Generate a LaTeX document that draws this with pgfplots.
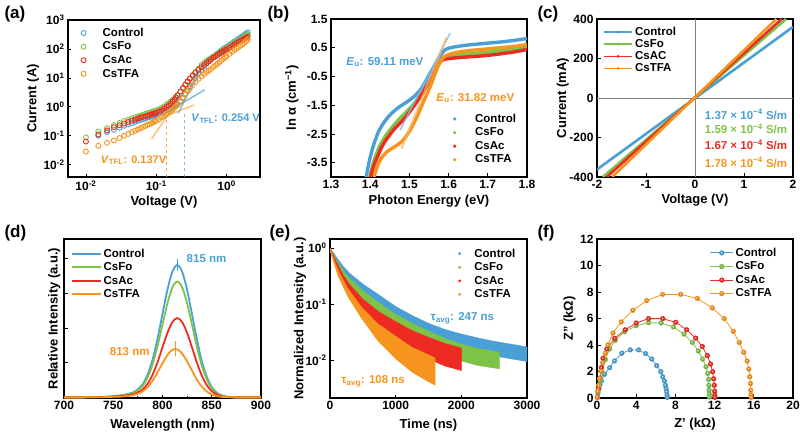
\documentclass[border=0pt]{standalone}
\usepackage{fontspec}
\setmainfont{Liberation Sans}
\usepackage{pgfplots}
\pgfplotsset{compat=1.18}
\definecolor{cblue}{HTML}{4A9FD6}
\definecolor{cgreen}{HTML}{7CC348}
\definecolor{cred}{HTML}{EE2B22}
\definecolor{corange}{HTML}{F7941D}
\newcommand{\tickfont}{\fontsize{12}{13}\selectfont\bfseries}
\newcommand{\labfont}{\fontsize{13}{14}\selectfont\bfseries}
\newcommand{\legfont}{\fontsize{11.5}{13}\selectfont\bfseries}
\newcommand{\anfont}{\fontsize{11.5}{13}\selectfont\bfseries}
\newcommand{\panfont}{\fontsize{17}{18}\selectfont\bfseries}
\pgfplotsset{
  panel/.style={
    scale only axis,
    anchor=south west,
    axis line style={line width=1.3pt},
    tick align=inside,
    tick pos=left,
    major tick length=3.5pt,
    minor tick length=2pt,
    tick style={line width=0.8pt, black},
    tick label style={font=\tickfont},
    label style={font=\labfont},
    legend style={draw=none, fill=none, font=\legfont},
    legend cell align=left,
  },
}

\begin{document}
\begin{tikzpicture}
\useasboundingbox (0pt,0pt) rectangle (800pt,-435pt);

\node[anchor=west, font=\panfont] at (1pt,-14pt) {(a)};
\node[anchor=west, font=\panfont] at (264pt,-14pt) {(b)};
\node[anchor=west, font=\panfont] at (534pt,-14pt) {(c)};
\node[anchor=west, font=\panfont] at (1pt,-233pt) {(d)};
\node[anchor=west, font=\panfont] at (266pt,-233pt) {(e)};
\node[anchor=west, font=\panfont] at (534pt,-233pt) {(f)};

% (a) SCLC
\begin{axis}[panel, at={(68pt,-177pt)}, width=192pt, height=157pt,
  xmode=log, ymode=log, xmin=0.00556, xmax=2.99, ymin=0.0038, ymax=1000,
  xminorticks=false, yminorticks=false,
  xtick={0.01,0.1,1}, xticklabels={10\textsuperscript{-2},10\textsuperscript{-1},10\textsuperscript{0}},
  ytick={0.01,0.1,1,10,100,1000},
  yticklabels={10\textsuperscript{-2},10\textsuperscript{-1},10\textsuperscript{0},10\textsuperscript{1},10\textsuperscript{2},10\textsuperscript{3}},
  xlabel={Voltage (V)}, ylabel={Current (A)},
  xlabel style={at={(axis description cs:0.5,-0.16)}, anchor=center},
  ylabel style={at={(axis description cs:-0.182,0.5)}, anchor=center},
  legend image code/.code={\path[draw=none,fill=none] (0cm,0cm) -- (0.8cm,0cm); \draw[mark repeat=2,mark phase=2,#1] plot coordinates {(0cm,0cm) (0.2cm,0cm) (0.4cm,0cm)};},
  legend style={at={(0.035,0.975)}, anchor=north west},
]
\addplot[only marks, mark=o, mark size=2.5pt, cblue, line width=0.9pt] coordinates {
(0.015,0.102) (0.02,0.135) (0.025,0.162) (0.03,0.19) (0.035,0.224) (0.04,0.251) (0.045,0.275)
(0.05,0.305) (0.055,0.331) (0.06,0.355) (0.065,0.376) (0.07,0.403) (0.075,0.427) (0.08,0.447)
(0.085,0.468) (0.09,0.49) (0.095,0.513) (0.1,0.537) (0.11,0.589) (0.12,0.631) (0.13,0.684)
(0.14,0.75) (0.15,0.822) (0.16,0.891) (0.17,0.977) (0.18,1.07) (0.19,1.17) (0.2,1.26)
(0.22,1.58) (0.24,2.09) (0.26,2.82) (0.28,3.8) (0.3,5.0) (0.33,7.24) (0.36,10) (0.4,14.3)
(0.44,19) (0.48,25) (0.52,31) (0.56,37) (0.6,44) (0.65,53.7) (0.7,61.7) (0.75,70.8) (0.8,80.5)
(0.85,90.4) (0.9,99.5) (0.95,109) (1.0,118) (1.1,138) (1.2,158) (1.3,181) (1.4,204) (1.5,229)
(1.6,253) (1.7,280) (1.8,309) (1.9,343) (2.0,376)};
\addlegendentry{Control}
\addplot[only marks, mark=o, mark size=2.5pt, cgreen, line width=0.9pt] coordinates {
(0.01,0.089) (0.015,0.141) (0.02,0.186) (0.025,0.234) (0.03,0.279) (0.035,0.324) (0.04,0.363)
(0.045,0.403) (0.05,0.437) (0.055,0.468) (0.06,0.50) (0.065,0.537) (0.07,0.569) (0.075,0.603)
(0.08,0.631) (0.085,0.661) (0.09,0.692) (0.095,0.724) (0.1,0.759) (0.11,0.832) (0.12,0.923)
(0.13,1.035) (0.14,1.19) (0.15,1.33) (0.16,1.51) (0.17,1.70) (0.18,1.86) (0.19,2.14) (0.2,2.51)
(0.22,3.31) (0.24,4.37) (0.26,5.75) (0.28,7.41) (0.3,9.33) (0.33,12.6) (0.36,16.2) (0.4,20.9)
(0.44,27.5) (0.48,33.9) (0.52,38.9) (0.56,43.7) (0.6,47.9) (0.65,55) (0.7,61.7) (0.75,69)
(0.8,76.7) (0.85,85) (0.9,92.7) (0.95,101) (1.0,109) (1.1,126) (1.2,144) (1.3,162) (1.4,181)
(1.5,200) (1.6,221) (1.7,240) (1.8,263) (1.9,288) (2.0,316)};
\addlegendentry{CsFo}
\addplot[only marks, mark=o, mark size=2.5pt, cred, line width=0.9pt] coordinates {
(0.01,0.0638) (0.015,0.112) (0.02,0.155) (0.025,0.20) (0.03,0.232) (0.035,0.266) (0.04,0.302)
(0.045,0.335) (0.05,0.363) (0.055,0.398) (0.06,0.427) (0.065,0.452) (0.07,0.473) (0.075,0.495)
(0.08,0.525) (0.085,0.55) (0.09,0.569) (0.095,0.596) (0.1,0.631) (0.11,0.708) (0.12,0.776)
(0.13,0.881) (0.14,1.0) (0.15,1.10) (0.16,1.29) (0.17,1.51) (0.18,1.78) (0.19,2.14) (0.2,2.51)
(0.22,3.39) (0.24,4.57) (0.26,5.89) (0.28,7.59) (0.3,9.55) (0.33,12.0) (0.36,14.8) (0.4,19.1)
(0.44,23.4) (0.48,28.2) (0.52,32.7) (0.56,37.6) (0.6,42.7) (0.65,50) (0.7,55.6) (0.75,62.4)
(0.8,69.2) (0.85,76.4) (0.9,83.2) (0.95,90.8) (1.0,97.7) (1.1,112) (1.2,129) (1.3,145) (1.4,162)
(1.5,178) (1.6,195) (1.7,209) (1.8,229) (1.9,245) (2.0,266)};
\addlegendentry{CsAc}
\addplot[only marks, mark=o, mark size=2.5pt, corange, line width=0.9pt] coordinates {
(0.01,0.0288) (0.015,0.0452) (0.02,0.0575) (0.025,0.0692) (0.03,0.0841) (0.035,0.101) (0.04,0.117)
(0.045,0.133) (0.05,0.15) (0.055,0.166) (0.06,0.184) (0.065,0.204) (0.07,0.221) (0.075,0.24)
(0.08,0.254) (0.085,0.272) (0.09,0.292) (0.095,0.313) (0.1,0.331) (0.11,0.376) (0.12,0.437)
(0.13,0.49) (0.14,0.562) (0.15,0.638) (0.16,0.716) (0.17,0.804) (0.18,0.923) (0.19,1.05) (0.2,1.17)
(0.22,1.48) (0.24,1.95) (0.26,2.8) (0.28,3.5) (0.3,4.3) (0.33,5.7) (0.36,7.3) (0.4,9.3)
(0.44,11.5) (0.48,13.6) (0.52,15.8) (0.56,18.0) (0.6,20.4) (0.65,24) (0.7,27.5) (0.75,31.5)
(0.8,36) (0.85,41) (0.9,46) (0.95,51) (1.0,56) (1.1,67) (1.2,80) (1.3,92) (1.4,105)
(1.5,118) (1.6,132) (1.7,148) (1.8,165) (1.9,185) (2.0,210)};
\addlegendentry{CsTFA}
% fits and V_TFL markers
\addplot[cblue, opacity=0.65, line width=1.6pt, forget plot] coordinates {(0.14,0.65) (0.49,3.9)};
\addplot[cblue, opacity=0.65, line width=1.6pt, forget plot] coordinates {(0.205,0.6) (0.46,30)};
\addplot[corange, opacity=0.55, line width=1.6pt, forget plot] coordinates {(0.11,0.39) (0.345,1.16)};
\addplot[corange, opacity=0.55, line width=1.6pt, forget plot] coordinates {(0.086,0.079) (0.37,14)};
\addplot[cblue, dashed, opacity=0.7, line width=0.7pt, forget plot] coordinates {(0.254,0.0038) (0.254,0.72)};
\addplot[corange, dashed, opacity=0.8, line width=0.7pt, forget plot] coordinates {(0.137,0.0038) (0.137,0.45)};
\node[anchor=west, text=cblue, font=\fontsize{11}{12}\selectfont\bfseries] at (axis cs:0.282,0.40) {\textit{V}\textsubscript{TFL}: 0.254 V};
\node[anchor=west, text=corange, font=\fontsize{11}{12}\selectfont\bfseries] at (axis cs:0.0145,0.0145) {\textit{V}\textsubscript{TFL}: 0.137V};
\end{axis}

% (b) Urbach
\begin{axis}[panel, at={(331pt,-177pt)}, width=196pt, height=158pt,
  xmin=1.3, xmax=1.8, ymin=-4, ymax=1.5,
  xtick={1.3,1.4,1.5,1.6,1.7,1.8}, xticklabels={1.3,1.4,1.5,1.6,1.7,1.8},
  ytick={-3.5,-2.5,-1.5,-0.5,0.5,1.5}, yticklabels={-3.5,-2.5,-1.5,-0.5,0.5,1.5},
  xlabel={Photon Energy (eV)}, ylabel={ln α (cm\textsuperscript{−1})},
  xlabel style={at={(axis description cs:0.5,-0.156)}, anchor=center},
  ylabel style={at={(axis description cs:-0.2,0.5)}, anchor=center},
  legend image code/.code={\path[draw=none,fill=none] (0cm,0cm) -- (0.75cm,0cm); \fill[#1, draw=none] (0.1cm,0cm) circle (1.8pt);},
  legend style={at={(0.6,0.425)}, anchor=north west},
]
\addplot[cblue, line width=3.4pt, smooth] coordinates {
(1.390,-4.0) (1.396,-3.55) (1.404,-3.1) (1.412,-2.75) (1.422,-2.4) (1.435,-2.1) (1.45,-1.85)
(1.47,-1.6) (1.49,-1.42) (1.51,-1.22) (1.53,-0.93) (1.55,-0.45) (1.565,-0.1) (1.578,0.2)
(1.59,0.42) (1.605,0.5) (1.63,0.56) (1.66,0.61) (1.70,0.66) (1.74,0.71) (1.77,0.76) (1.80,0.82)};
\addlegendentry{Control}
\addplot[cgreen, line width=3.4pt, smooth] coordinates {
(1.399,-4.0) (1.405,-3.65) (1.413,-3.3) (1.425,-2.9) (1.44,-2.55) (1.46,-2.2) (1.48,-1.9)
(1.505,-1.55) (1.53,-1.12) (1.555,-0.6) (1.572,-0.15) (1.583,0.08) (1.595,0.18) (1.62,0.24)
(1.65,0.28) (1.68,0.32) (1.71,0.36) (1.74,0.41) (1.77,0.46) (1.80,0.52)};
\addlegendentry{CsFo}
\addplot[cred, line width=3.4pt, smooth] coordinates {
(1.401,-4.0) (1.406,-3.75) (1.412,-3.5) (1.42,-3.25) (1.434,-2.84) (1.459,-2.37) (1.485,-2.0)
(1.51,-1.56) (1.536,-1.03) (1.561,-0.45) (1.574,-0.06) (1.585,0.08) (1.60,0.12) (1.62,0.15)
(1.65,0.18) (1.68,0.21) (1.71,0.25) (1.74,0.30) (1.77,0.36) (1.80,0.44)};
\addlegendentry{CsAc}
\addplot[corange, line width=3.4pt, smooth] coordinates {
(1.410,-4.0) (1.415,-3.75) (1.425,-3.42) (1.442,-3.13) (1.468,-2.9) (1.482,-2.75) (1.502,-2.37)
(1.519,-1.91) (1.536,-1.38) (1.553,-0.86) (1.566,-0.39) (1.578,0.0) (1.59,0.2) (1.61,0.3)
(1.63,0.36) (1.66,0.41) (1.70,0.46) (1.74,0.51) (1.77,0.55) (1.80,0.61)};
\addlegendentry{CsTFA}
\addplot[cblue!70!white, opacity=0.8, line width=1.6pt, forget plot] coordinates {(1.476,-2.37) (1.604,1.01)};
\addplot[corange!70!white, opacity=0.7, line width=2.2pt, forget plot] coordinates {(1.48,-3.0) (1.595,0.85)};
\node[anchor=west, text=cblue, font=\anfont] at (axis cs:1.33,0.0) {\textit{E}\textsubscript{u}: 59.11 meV};
\node[anchor=west, text=corange, font=\anfont] at (axis cs:1.56,-1.25) {\textit{E}\textsubscript{u}: 31.82 meV};
\end{axis}

% (c) conductivity
\begin{axis}[panel, at={(597pt,-177pt)}, width=196pt, height=158pt,
  xmin=-2, xmax=2, ymin=-400, ymax=400,
  xtick={-2,-1,0,1,2}, xticklabels={-2,-1,0,1,2},
  ytick={-400,-200,0,200,400}, yticklabels={-400,-200,0,200,400},
  xlabel={Voltage (V)}, ylabel={Current (mA)},
  xlabel style={at={(axis description cs:0.5,-0.146)}, anchor=center},
  ylabel style={at={(axis description cs:-0.175,0.5)}, anchor=center},
  legend image code/.code={\draw[#1, line width=1.5pt] (0cm,0cm) -- (1cm,0cm); \fill[#1, draw=none] (0.5cm,0cm) circle (1.6pt);},
  legend style={at={(0.015,0.975)}, anchor=north west, row sep=-1.5pt},
]
\addplot[gray, line width=0.9pt, forget plot] coordinates {(0,-400) (0,400)};
\addplot[gray, line width=0.9pt, forget plot] coordinates {(-2,0) (2,0)};
\addplot[cblue, line width=2.6pt] coordinates {(-2,-362) (2,360)};
\addlegendentry{Control}
\addplot[cgreen, line width=2.6pt] coordinates {(-1.88,-400) (1.86,400)};
\addlegendentry{CsFo}
\addplot[cred, line width=2.6pt] coordinates {(-1.80,-400) (1.77,400)};
\addlegendentry{CsAC}
\addplot[corange, line width=2.6pt] coordinates {(-1.69,-400) (1.66,400)};
\addlegendentry{CsTFA}
\node[anchor=west, text=cblue, font=\anfont] at (axis cs:0.13,-82) {1.37 × 10\textsuperscript{−4} S/m};
\node[anchor=west, text=cgreen, font=\anfont] at (axis cs:0.13,-155) {1.59 × 10\textsuperscript{−4} S/m};
\node[anchor=west, text=cred, font=\anfont] at (axis cs:0.13,-236) {1.67 × 10\textsuperscript{−4} S/m};
\node[anchor=west, text=corange, font=\anfont] at (axis cs:0.13,-325) {1.78 × 10\textsuperscript{−4} S/m};
\end{axis}

% (d) PL
\begin{axis}[panel, at={(64pt,-398pt)}, width=197pt, height=159pt,
  xmin=700, xmax=900, ymin=-0.004, ymax=1,
  xtick={700,750,800,850,900}, xticklabels={700,750,800,850,900},
  minor xtick={725,775,825,875},
  ytick={0.218,0.438,0.658,0.879}, yticklabels={},
  xlabel={Wavelength (nm)}, ylabel={Relative Intensity (a.u.)},
  xlabel style={at={(axis description cs:0.5,-0.17)}, anchor=center},
  ylabel style={at={(axis description cs:-0.05,0.5)}, anchor=center},
  legend image code/.code={\draw[#1, line width=2pt] (0cm,0cm) -- (1cm,0cm);},
  legend style={at={(0.02,0.965)}, anchor=north west},
]
\addplot[cblue, line width=1.8pt, smooth] coordinates {
(700,0) (720,0) (725,0.001) (730,0.002) (735,0.003) (740,0.003) (745,0.005) (750,0.008) (755,0.011)
(760,0.015) (765,0.022) (770,0.031) (775,0.051) (780,0.084) (785,0.145) (790,0.240) (795,0.372)
(800,0.527) (805,0.679) (810,0.793) (815,0.836) (820,0.793) (825,0.679) (830,0.523) (835,0.364)
(840,0.227) (845,0.129) (850,0.065) (855,0.030) (860,0.013) (865,0.005) (870,0.002) (875,0) (900,0)};
\addlegendentry{Control}
\addplot[cgreen, line width=1.8pt, smooth] coordinates {
(700,0) (720,0) (725,0.001) (730,0.001) (735,0.002) (740,0.003) (745,0.004) (750,0.007) (755,0.010)
(760,0.013) (765,0.019) (770,0.027) (775,0.045) (780,0.073) (785,0.127) (790,0.210) (795,0.325)
(800,0.461) (805,0.594) (810,0.694) (815,0.731) (820,0.694) (825,0.594) (830,0.458) (835,0.318)
(840,0.199) (845,0.113) (850,0.057) (855,0.026) (860,0.011) (865,0.004) (870,0.001) (875,0) (900,0)};
\addlegendentry{CsFo}
\addplot[cred, line width=1.8pt, smooth] coordinates {
(700,0) (720,0) (725,0.001) (730,0.001) (735,0.002) (740,0.002) (745,0.003) (750,0.005) (755,0.007)
(760,0.009) (765,0.013) (770,0.019) (775,0.031) (780,0.050) (785,0.087) (790,0.144) (795,0.223)
(800,0.316) (805,0.407) (810,0.475) (815,0.501) (820,0.475) (825,0.407) (830,0.314) (835,0.218)
(840,0.136) (845,0.077) (850,0.039) (855,0.018) (860,0.007) (865,0.003) (870,0.001) (875,0) (900,0)};
\addlegendentry{CsAc}
\addplot[corange, line width=1.8pt, smooth] coordinates {
(700,0) (718,0) (723,0.0003) (728,0.001) (733,0.001) (738,0.001) (743,0.002) (748,0.003) (753,0.004)
(758,0.005) (763,0.008) (768,0.011) (773,0.019) (778,0.031) (783,0.053) (788,0.088) (793,0.136)
(798,0.193) (803,0.248) (808,0.290) (813,0.306) (818,0.290) (823,0.248) (828,0.192) (833,0.133)
(838,0.083) (843,0.047) (848,0.024) (853,0.011) (858,0.005) (863,0.002) (868,0.001) (873,0) (900,0)};
\addlegendentry{CsTFA}
\addplot[cblue, line width=0.7pt, forget plot] coordinates {(815,0.80) (815,0.875)};
\addplot[corange, line width=0.7pt, forget plot] coordinates {(813,0.26) (813,0.355)};
\node[anchor=west, text=cblue, font=\anfont] at (axis cs:821,0.874) {815 nm};
\node[anchor=west, text=corange, font=\anfont] at (axis cs:743,0.29) {813 nm};
\end{axis}

% (e) TRPL
\begin{axis}[panel, at={(330pt,-398pt)}, width=197pt, height=159pt,
  xmin=0, xmax=3000, ymode=log, ymin=0.00214, ymax=1.45, yminorticks=false,
  xtick={0,1000,2000,3000}, xticklabels={0,1000,2000,3000},
  ytick={0.01,0.1,1}, yticklabels={10\textsuperscript{-2},10\textsuperscript{-1},10\textsuperscript{0}},
  xlabel={Time (ns)}, ylabel={Normalized Intensity (a.u.)},
  xlabel style={at={(axis description cs:0.5,-0.17)}, anchor=center},
  ylabel style={at={(axis description cs:-0.152,0.5)}, anchor=center},
  legend image code/.code={\path[draw=none,fill=none] (0cm,0cm) -- (0.6cm,0cm); \fill[#1, draw=none] (0.15cm,0cm) circle (1.6pt);},
  legend style={at={(0.62,0.965)}, anchor=north west},
]
\addplot[fill=cblue, draw=cblue, line width=0.4pt] coordinates {
(0,1.0) (50,0.832) (100,0.684) (200,0.473) (300,0.355) (500,0.229) (750,0.145) (1000,0.0912)
(1250,0.0631) (1500,0.0457) (1750,0.0355) (2000,0.0295) (2250,0.0251) (2500,0.0219) (2750,0.0195) (3000,0.0174)
(3000,0.00955) (2750,0.0107) (2500,0.012) (2250,0.0138) (2000,0.0162) (1750,0.0204) (1500,0.0275)
(1250,0.0398) (1000,0.0603) (750,0.1) (500,0.174) (300,0.282) (200,0.385) (100,0.582) (50,0.724) (0,0.912)};
\addlegendentry{Control}
\addplot[fill=cgreen, draw=cgreen, line width=0.4pt] coordinates {
(0,1.0) (50,0.794) (100,0.61) (200,0.398) (300,0.288) (500,0.174) (750,0.105) (1000,0.0661)
(1250,0.0457) (1500,0.0331) (1750,0.0245) (2000,0.0195) (2250,0.0162) (2580,0.0141)
(2580,0.00708) (2250,0.00813) (2000,0.00977) (1750,0.0135) (1500,0.0191) (1250,0.0275)
(1000,0.0417) (750,0.0692) (500,0.120) (300,0.219) (200,0.316) (100,0.519) (50,0.692) (0,0.912)};
\addlegendentry{CsFo}
\addplot[fill=cred, draw=cred, line width=0.4pt] coordinates {
(0,1.0) (50,0.741) (100,0.562) (200,0.331) (300,0.224) (500,0.123) (750,0.0724) (1000,0.049)
(1250,0.0339) (1500,0.0257) (1750,0.02) (2000,0.0166)
(2000,0.0066) (1750,0.00794) (1500,0.0107) (1250,0.0155) (1000,0.0245) (750,0.0417)
(500,0.0813) (300,0.162) (200,0.263) (100,0.468) (50,0.646) (0,0.912)};
\addlegendentry{CsAc}
\addplot[fill=corange, draw=corange, line width=0.4pt] coordinates {
(0,1.0) (50,0.676) (120,0.407) (270,0.191) (480,0.0891) (730,0.0447) (1000,0.0269)
(1250,0.017) (1500,0.0126) (1600,0.011)
(1600,0.00363) (1500,0.00417) (1250,0.00617) (1000,0.0107) (730,0.0224) (480,0.0562)
(270,0.138) (120,0.324) (50,0.589) (0,0.912)};
\addlegendentry{CsTFA}
\node[anchor=west, text=cblue, font=\anfont] at (axis cs:1480,0.056) {τ\textsubscript{avg}: 247 ns};
\node[anchor=west, text=corange, font=\anfont] at (axis cs:120,0.0043) {τ\textsubscript{avg}: 108 ns};
\end{axis}

% (f) EIS
\begin{axis}[panel, at={(597pt,-398pt)}, width=196pt, height=159pt,
  xmin=0, xmax=20, ymin=0, ymax=12,
  xtick={0,4,8,12,16,20}, xticklabels={0,4,8,12,16,20},
  ytick={0,2,4,6,8,10,12}, yticklabels={0,2,4,6,8,10,12},
  xlabel={Z' (kΩ)}, ylabel={Z" (kΩ)},
  xlabel style={at={(axis description cs:0.5,-0.165)}, anchor=center},
  ylabel style={at={(axis description cs:-0.14,0.5)}, anchor=center},
  legend image code/.code={\draw[mark repeat=2, mark phase=2, #1] plot coordinates {(0cm,0cm) (0.4cm,0cm) (0.8cm,0cm)};},
  legend style={at={(0.56,0.97)}, anchor=north west},
  clip=false,
]
\addplot[cblue, line width=0.8pt, mark=ball, mark size=2.2pt, mark options={ball color=cblue}] coordinates {
(0.05,0.05) (0.1,0.35) (0.2,0.7) (0.3,1.0) (0.44,1.29) (0.75,1.78) (1.29,2.28) (1.8,2.8) (2.54,3.38)
(3.39,3.63) (4.24,3.63) (4.95,3.35) (5.59,2.94) (6.1,2.44) (6.51,1.98) (6.71,1.6) (6.88,1.29)
(6.98,0.96) (7.05,0.71) (7.12,0.46) (7.15,0.22) (7.17,0.05)};
\addlegendentry{Control}
\addplot[cgreen, line width=0.8pt, mark=ball, mark size=2.2pt, mark options={ball color=cgreen}] coordinates {
(0.05,0.05) (0.15,0.6) (0.3,1.3) (0.5,2.0) (0.85,2.9) (1.29,3.7) (1.86,4.35) (2.81,5.0) (4.0,5.45)
(5.25,5.68) (6.54,5.66) (7.8,5.36) (8.88,4.82) (9.73,4.19) (10.34,3.55) (10.78,2.94) (11.12,2.36)
(11.3,1.85) (11.39,1.4) (11.42,0.96) (11.44,0.6) (11.46,0.3) (11.47,0.08)};
\addlegendentry{CsFo}
\addplot[cred, line width=0.8pt, mark=ball, mark size=2.2pt, mark options={ball color=cred}] coordinates {
(0.05,0.05) (0.15,0.7) (0.3,1.5) (0.45,2.3) (0.61,3.0) (1.0,3.7) (1.8,4.5) (2.88,5.15) (4.0,5.66)
(5.25,5.99) (6.71,5.99) (8.03,5.71) (9.15,5.15) (10.07,4.52) (10.75,3.88) (11.25,3.2) (11.59,2.56)
(11.8,1.98) (11.9,1.45) (11.97,0.96) (12.0,0.5) (12.02,0.2) (12.03,0.05)};
\addlegendentry{CsAc}
\addplot[corange, line width=0.8pt, mark=ball, mark size=2.2pt, mark options={ball color=corange}] coordinates {
(0.03,0.05) (0.08,0.5) (0.17,0.96) (0.27,1.47) (0.41,2.03) (0.58,2.66) (0.85,3.38) (1.12,4.01)
(1.63,4.9) (2.47,5.74) (3.66,6.62) (5.08,7.36) (6.71,7.82) (8.54,7.82) (10.24,7.51) (11.76,6.8)
(12.98,5.99) (13.9,5.03) (14.51,4.19) (14.98,3.45) (15.32,2.79) (15.49,2.18) (15.59,1.6)
(15.66,1.09) (15.69,0.58) (15.71,0.25) (15.73,0.05)};
\addlegendentry{CsTFA}
\end{axis}
\end{tikzpicture}
\end{document}
